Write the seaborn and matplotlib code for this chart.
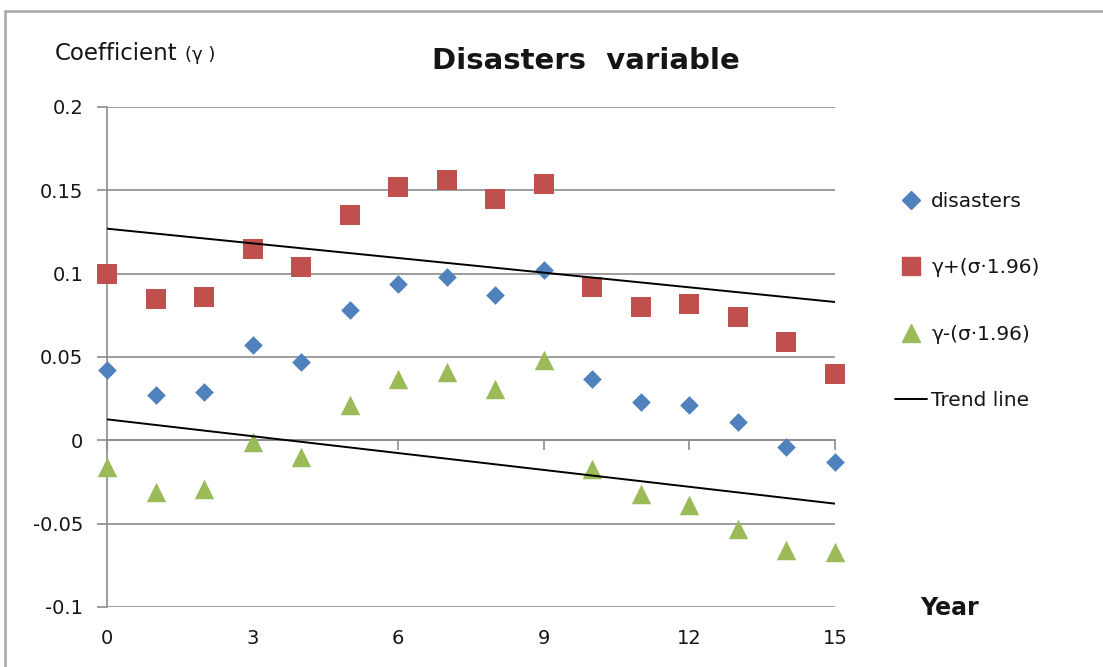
import numpy as np
import pandas as pd
import matplotlib
matplotlib.use("Agg")
import matplotlib.pyplot as plt
import seaborn as sns
from matplotlib.lines import Line2D
from matplotlib.patches import Rectangle

# ---------------- data ----------------
years = list(range(16))
disasters = [0.042, 0.027, 0.029, 0.057, 0.047, 0.078, 0.094, 0.098,
             0.087, 0.102, 0.037, 0.023, 0.021, 0.011, -0.004, -0.013]
gamma_plus = [0.100, 0.085, 0.086, 0.115, 0.104, 0.135, 0.152, 0.156,
              0.145, 0.154, 0.092, 0.080, 0.082, 0.074, 0.059, 0.040]
gamma_minus = [-0.016, -0.031, -0.029, -0.001, -0.010, 0.021, 0.037, 0.041,
               0.031, 0.048, -0.017, -0.032, -0.039, -0.053, -0.066, -0.067]
trend_years = [0, 15]
trend_upper = [0.127, 0.083]
trend_lower = [0.0126, -0.038]

series_names = ["disasters", "γ+(σ·1.96)", "γ-(σ·1.96)"]
x_ticks = [0, 3, 6, 9, 12, 15]
y_ticks = [-0.1, -0.05, 0, 0.05, 0.1, 0.15, 0.2]
y_tick_labels = ["-0.1", "-0.05", "0", "0.05", "0.1", "0.15", "0.2"]

title_text = "Disasters  variable"
ylabel_text = "Coefficient"
ylabel_sym = "(γ )"
xlabel_text = "Year"
trend_label = "Trend line"

# ---------------- styling ----------------
sns.set_theme(style="white")
plt.rcParams["font.family"] = ["DejaVu Sans"]

blue = "#4F81BD"
red = "#C0504D"
green = "#9BBB59"
grid_gray = "#8c8c8c"
text_col = "#151515"

W, H = 1103, 667
fig = plt.figure(figsize=(W / 100, H / 100), dpi=100)
ax = fig.add_axes([107 / W, 1 - 607 / H, (835 - 107) / W, 500 / H])

df = pd.DataFrame({
    "year": years * 3,
    "value": disasters + gamma_plus + gamma_minus,
    "series": [n for n in series_names for _ in years],
})

markers = {series_names[0]: "D", series_names[1]: "s", series_names[2]: "^"}
msize = {series_names[0]: 9.5, series_names[1]: 14, series_names[2]: 14}
colors = {series_names[0]: blue, series_names[1]: red, series_names[2]: green}

for name in series_names:
    sub = df[df["series"] == name]
    sns.scatterplot(data=sub, x="year", y="value", marker=markers[name],
                    s=msize[name] ** 2, color=colors[name], linewidth=0,
                    ax=ax, legend=False, zorder=3, clip_on=False)

trend_df = pd.DataFrame({
    "year": trend_years * 2,
    "value": trend_upper + trend_lower,
    "line": ["upper"] * 2 + ["lower"] * 2,
})
sns.lineplot(data=trend_df, x="year", y="value", units="line", estimator=None,
             color="black", linewidth=1.4, ax=ax, legend=False, zorder=4)

ax.set_xlim(0, 15)
ax.set_ylim(-0.1, 0.2)
ax.set_xlabel("")
ax.set_ylabel("")

# y axis: gridlines extend slightly left like Excel
ax.set_yticks(y_ticks)
ax.set_yticklabels(y_tick_labels)
ax.yaxis.grid(True, color=grid_gray, linewidth=1.2)
ax.xaxis.grid(False)
ax.tick_params(axis="y", which="major", left=True, length=7.5, width=1.2,
               color=grid_gray, direction="out", pad=9.5, labelsize=14,
               labelcolor=text_col)
ax.set_xticks(x_ticks)
ax.tick_params(axis="x", which="major", bottom=False, length=0, pad=16,
               labelsize=14, labelcolor=text_col)

for side in ["top", "right", "bottom"]:
    ax.spines[side].set_visible(False)
ax.spines["left"].set_color(grid_gray)
ax.spines["left"].set_linewidth(1.2)

# horizontal category axis crossing at y = 0 with tick marks
ylo, yhi = ax.get_ylim()
sec = ax.secondary_xaxis((0 - ylo) / (yhi - ylo))
sec.set_xticks(x_ticks)
sec.tick_params(axis="x", length=7.5, width=1.2, color=grid_gray,
                direction="out", labelbottom=False, labeltop=False)
for s in sec.spines.values():
    s.set_color(grid_gray)
    s.set_linewidth(1.2)

# texts
fig.text(586 / W, 1 - 69 / H, title_text, fontsize=21, fontweight="bold",
         ha="center", va="baseline", color=text_col)
fig.text(55 / W, 1 - 60 / H, ylabel_text, fontsize=16.5, ha="left",
         va="baseline", color=text_col)
fig.text(185 / W, 1 - 60 / H, ylabel_sym, fontsize=13, ha="left",
         va="baseline", color=text_col)
fig.text(950 / W, 1 - 615 / H, xlabel_text, fontsize=17, fontweight="bold",
         ha="center", va="baseline", color=text_col)

# legend
handles = [
    Line2D([], [], marker="D", color=blue, ls="", markersize=9.5),
    Line2D([], [], marker="s", color=red, ls="", markersize=13),
    Line2D([], [], marker="^", color=green, ls="", markersize=13),
    Line2D([], [], color="black", lw=1.4),
]
labels = series_names + [trend_label]
fig.legend(handles, labels, loc="upper left",
           bbox_to_anchor=(887 / W, 1 - 184 / H), frameon=False,
           fontsize=14.5, labelspacing=2.35, handlelength=1.6,
           handletextpad=0.2, borderaxespad=0, labelcolor=text_col)

# outer chart border
fig.patches.append(Rectangle((5 / W, -0.2), 1.2, 1 - 11 / H + 0.2,
                             transform=fig.transFigure, fill=False,
                             edgecolor="#a6a6a6", linewidth=1.8))

fig.savefig("out.png", dpi=100)
